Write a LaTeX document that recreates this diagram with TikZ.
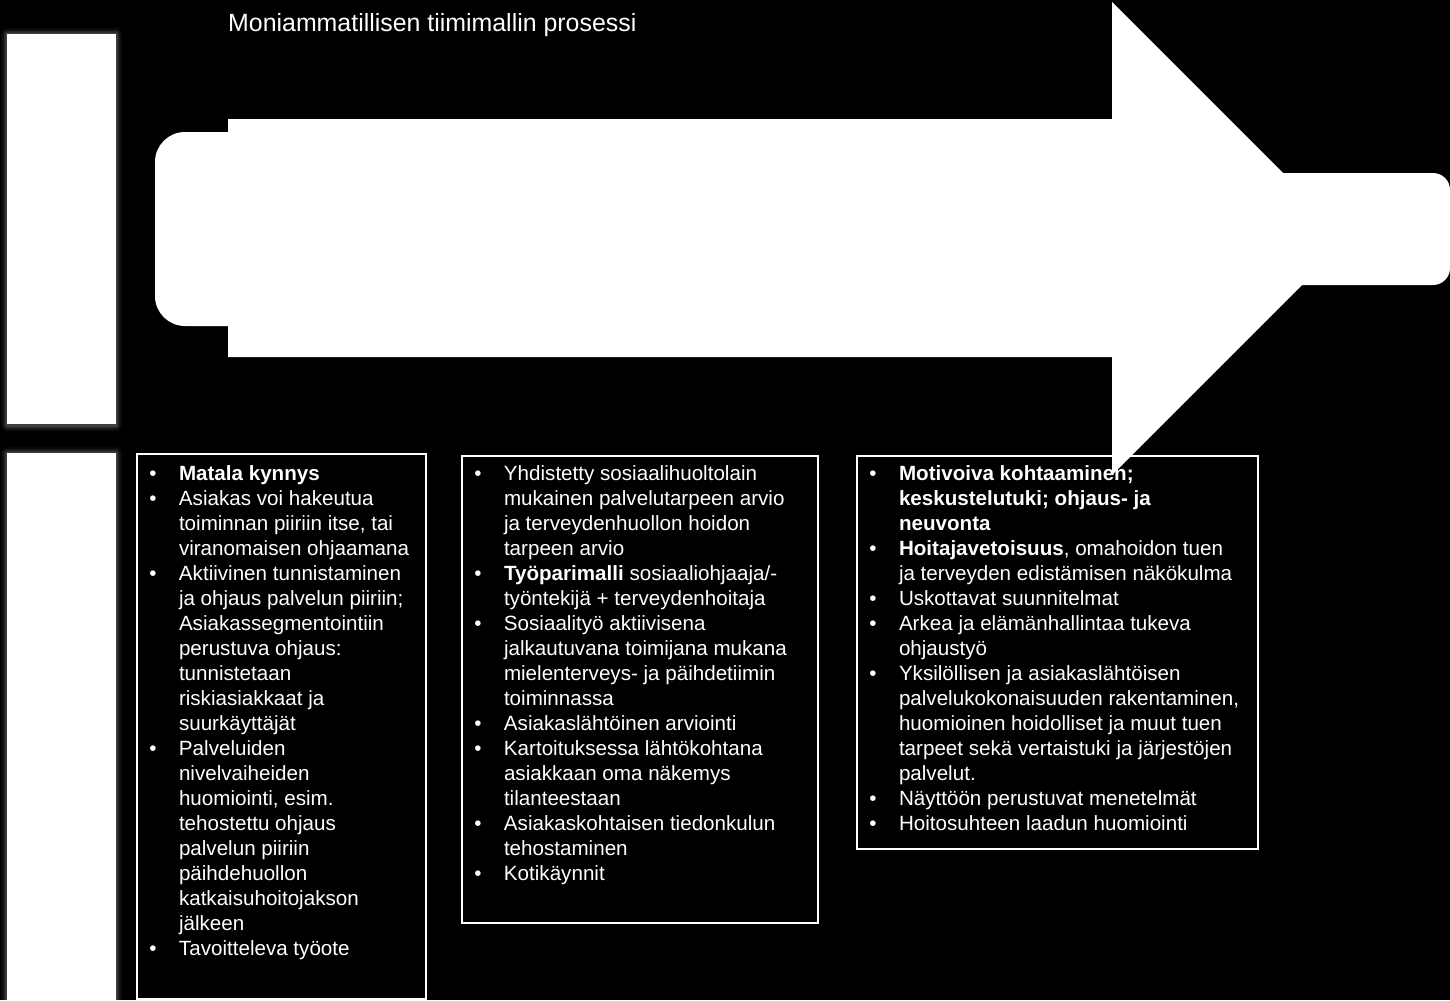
\documentclass[tikz,border=0pt]{standalone}
\usepackage{fontspec}
\setmainfont{Liberation Sans}
\newcommand\bl[1]{\hbox{\llap{\textbullet\hspace{22.4bp}}#1}}
\newcommand\cl[1]{\hbox{#1}}
\tikzset{
  txt/.style={anchor=base west, inner sep=0pt, outer sep=0pt, text=white,
    font=\fontsize{20.6bp}{25bp}\selectfont},
  frame/.style={draw=white, line width=1.2bp},
  whiteshape/.style={fill=white, draw=none},
}
\begin{document}
\begin{tikzpicture}[x=1bp,y=-1bp]
  \fill[black] (0,0) rectangle (1450,1000);
  \useasboundingbox (0,0) rectangle (1450,1000);

  % softly glowing white bars on the left
  \foreach \d/\o in {6/0.03,4.5/0.05,3/0.08,1.5/0.12}{
    \fill[white, opacity=\o, rounded corners=\d] (7-\d,34-\d) rectangle (116+\d,424+\d+1.5);
    \fill[white, opacity=\o, rounded corners=\d] (7-\d,453-\d) rectangle (116+\d,1010);
  }
  \fill[whiteshape] (7,34) rectangle (116,424);
  \fill[whiteshape] (7,453) rectangle (116,1010);

  % title
  \node[anchor=base west, inner sep=0pt, text=white,
        font=\fontsize{24.9bp}{29bp}\selectfont] (title) at (228,31)
        {Moniammatillisen tiimimallin prosessi};

  % text boxes (frames)
  \draw[frame] (137,454) rectangle (426,999);
  \draw[frame] (462,456) rectangle (818,923);
  \draw[frame] (857,456) rectangle (1258,849);

  % big arrow with rounded bands
  \fill[whiteshape] (228,119) -- (1112,119) -- (1112,2) -- (1348.5,238.5)
        -- (1112,475) -- (1112,357) -- (228,357) -- cycle;
  \fill[whiteshape, rounded corners=30bp] (155,132) rectangle (420,326);
  \fill[whiteshape, rounded corners=17bp] (1200,173) rectangle (1450,285);

  % box 1
  \node[txt] (t1) at (179,480) {\vtop{%
    \bl{\textbf{Matala kynnys}}
    \bl{Asiakas voi hakeutua}
    \cl{toiminnan piiriin itse, tai}
    \cl{viranomaisen ohjaamana}
    \bl{Aktiivinen tunnistaminen}
    \cl{ja ohjaus palvelun piiriin;}
    \cl{Asiakassegmentointiin}
    \cl{perustuva ohjaus:}
    \cl{tunnistetaan}
    \cl{riskiasiakkaat ja}
    \cl{suurkäyttäjät}
    \bl{Palveluiden}
    \cl{nivelvaiheiden}
    \cl{huomiointi, esim.}
    \cl{tehostettu ohjaus}
    \cl{palvelun piiriin}
    \cl{päihdehuollon}
    \cl{katkaisuhoitojakson}
    \cl{jälkeen}
    \bl{Tavoitteleva työote}}};

  % box 2
  \node[txt] (t2) at (504,480) {\vtop{%
    \bl{Yhdistetty sosiaalihuoltolain}
    \cl{mukainen palvelutarpeen arvio}
    \cl{ja terveydenhuollon hoidon}
    \cl{tarpeen arvio}
    \bl{\textbf{Työparimalli} sosiaaliohjaaja/-}
    \cl{työntekijä + terveydenhoitaja}
    \bl{Sosiaalityö aktiivisena}
    \cl{jalkautuvana toimijana mukana}
    \cl{mielenterveys- ja päihdetiimin}
    \cl{toiminnassa}
    \bl{Asiakaslähtöinen arviointi}
    \bl{Kartoituksessa lähtökohtana}
    \cl{asiakkaan oma näkemys}
    \cl{tilanteestaan}
    \bl{Asiakaskohtaisen tiedonkulun}
    \cl{tehostaminen}
    \bl{Kotikäynnit}}};

  % box 3
  \node[txt] (t3) at (899,480) {\vtop{%
    \bl{\textbf{Motivoiva kohtaaminen;}}
    \cl{\textbf{keskustelutuki; ohjaus- ja}}
    \cl{\textbf{neuvonta}}
    \bl{\textbf{Hoitajavetoisuus}, omahoidon tuen}
    \cl{ja terveyden edistämisen näkökulma}
    \bl{Uskottavat suunnitelmat}
    \bl{Arkea ja elämänhallintaa tukeva}
    \cl{ohjaustyö}
    \bl{Yksilöllisen ja asiakaslähtöisen}
    \cl{palvelukokonaisuuden rakentaminen,}
    \cl{huomioinen hoidolliset ja muut tuen}
    \cl{tarpeet sekä vertaistuki ja järjestöjen}
    \cl{palvelut.}
    \bl{Näyttöön perustuvat menetelmät}
    \bl{Hoitosuhteen laadun huomiointi}}};
\end{tikzpicture}
\end{document}
